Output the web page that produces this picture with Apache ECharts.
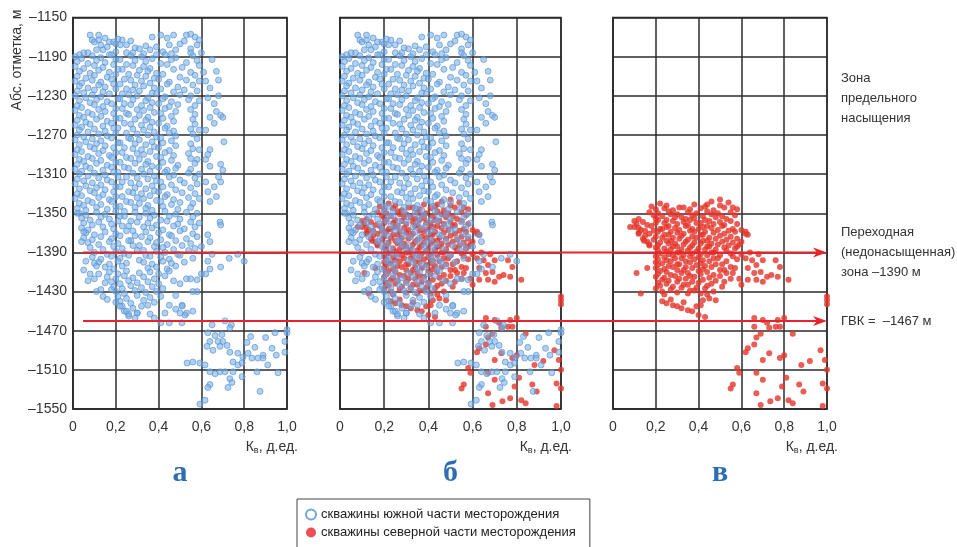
<!DOCTYPE html>
<html>
<head>
<meta charset="utf-8">
<script src="https://cdn.jsdelivr.net/npm/echarts@6/dist/echarts.min.js"></script>
<style>
html, body { margin: 0; padding: 0; background: #fff; }
#chart { width: 957px; height: 547px; }
</style>
</head>
<body>
<div id="chart"></div>
<script>
// оси
const kMin = 0, kMax = 1, kStep = 0.2;
const depthMin = -1550, depthMax = -1150, depthStep = 40;
const panelLetters = ['а', 'б', 'в'];
const seriesNames = ['скважины южной части месторождения', 'скважины северной части месторождения'];
// уровни стрелок (переходная зона, ГВК) и начало линии по Кв
const arrowLevels = [-1390, -1460];
const arrowStartK = 0.047;

// скважины южной части: [Кв, абс. отметка]
const southWells = [
  // верхняя редкая полоса
  [0.08,-1168],[0.12,-1168],[0.09,-1173],[0.1,-1175],[0.12,-1173],[0.15,-1171],[0.17,-1175],[0.19,-1175],[0.2,-1177],[0.22,-1178],
  [0.25,-1178],[0.27,-1174],[0.23,-1173],[0.37,-1170],[0.41,-1168],[0.44,-1171],[0.47,-1168],[0.53,-1168],[0.55,-1167],[0.57,-1170],
  [0.59,-1173],[0.5,-1177],[0.45,-1178],[0.39,-1180],[0.36,-1183],[0.16,-1180],[0.14,-1183],[0.11,-1183],[0.07,-1186],[0.05,-1186],
  [0.03,-1188],[0.2,-1185],[0.25,-1186],[0.28,-1186],[0.42,-1185],[0.48,-1183],[0.55,-1182],[0.6,-1186],[0.55,-1186],[0.31,-1182],
  [0.34,-1179],[0.29,-1181],[0.52,-1174],[0.58,-1178],[0.46,-1187],[0.39,-1188],[0.18,-1188],[0.13,-1178],[0.21,-1172],[0.33,-1187],
  // плотное ядро
  [0.01,-1190],[0.04,-1192],[0.09,-1189],[0.13,-1191],[0.17,-1188],[0.22,-1193],[0.27,-1189],[0.32,-1190],[0.37,-1192],[0.43,-1188],[0.48,-1191],[0.56,-1189],
  [0.02,-1195],[0.07,-1197],[0.11,-1194],[0.15,-1196],[0.2,-1193],[0.25,-1198],[0.29,-1194],[0.34,-1195],[0.41,-1197],[0.46,-1193],[0.53,-1196],[0.58,-1194],
  [0.01,-1200],[0.05,-1202],[0.1,-1199],[0.14,-1201],[0.19,-1198],[0.23,-1203],[0.28,-1199],[0.33,-1200],[0.36,-1202],[0.44,-1198],[0.51,-1201],[0.59,-1199],
  [0.03,-1205],[0.08,-1207],[0.12,-1204],[0.17,-1206],[0.21,-1203],[0.26,-1208],[0.31,-1204],[0.35,-1205],[0.39,-1207],[0.47,-1203],[0.55,-1206],
  [0.02,-1210],[0.06,-1212],[0.1,-1209],[0.16,-1211],[0.2,-1208],[0.24,-1213],[0.3,-1209],[0.34,-1210],[0.38,-1212],[0.42,-1208],[0.5,-1211],[0.57,-1209],
  [0.01,-1215],[0.04,-1217],[0.09,-1214],[0.13,-1216],[0.18,-1213],[0.22,-1218],[0.27,-1214],[0.32,-1215],[0.36,-1217],[0.4,-1213],[0.45,-1216],[0.53,-1214],[0.59,-1215],
  [0.03,-1220],[0.07,-1222],[0.12,-1219],[0.15,-1221],[0.19,-1218],[0.25,-1223],[0.29,-1219],[0.33,-1220],[0.38,-1222],[0.44,-1218],[0.49,-1221],[0.56,-1219],
  [0.02,-1225],[0.05,-1227],[0.1,-1224],[0.14,-1226],[0.2,-1223],[0.23,-1228],[0.28,-1224],[0.31,-1225],[0.37,-1227],[0.41,-1223],[0.47,-1226],[0.52,-1224],[0.58,-1225],
  [0.01,-1230],[0.06,-1232],[0.09,-1229],[0.13,-1231],[0.17,-1228],[0.22,-1233],[0.26,-1229],[0.3,-1230],[0.35,-1232],[0.39,-1228],[0.43,-1231],[0.5,-1229],[0.55,-1230],
  [0.03,-1235],[0.08,-1237],[0.11,-1234],[0.16,-1236],[0.21,-1233],[0.24,-1238],[0.28,-1234],[0.34,-1235],[0.37,-1237],[0.42,-1233],[0.46,-1236],[0.54,-1234],[0.59,-1235],
  [0.02,-1240],[0.04,-1242],[0.1,-1239],[0.14,-1241],[0.18,-1238],[0.23,-1243],[0.27,-1239],[0.32,-1240],[0.36,-1242],[0.4,-1238],[0.45,-1241],[0.49,-1239],[0.57,-1240],
  [0.01,-1245],[0.07,-1247],[0.12,-1244],[0.15,-1246],[0.2,-1243],[0.25,-1248],[0.3,-1244],[0.33,-1245],[0.38,-1247],[0.43,-1243],[0.48,-1246],[0.55,-1244],
  [0.03,-1250],[0.05,-1252],[0.09,-1249],[0.13,-1251],[0.19,-1248],[0.22,-1253],[0.26,-1249],[0.31,-1250],[0.35,-1252],[0.41,-1248],[0.46,-1251],[0.57,-1249],
  [0.02,-1255],[0.06,-1257],[0.11,-1254],[0.16,-1256],[0.2,-1253],[0.24,-1258],[0.29,-1254],[0.34,-1255],[0.37,-1257],[0.42,-1253],[0.47,-1256],[0.56,-1254],
  [0.01,-1260],[0.04,-1262],[0.08,-1259],[0.14,-1261],[0.18,-1258],[0.21,-1263],[0.27,-1259],[0.32,-1260],[0.36,-1262],[0.4,-1258],[0.44,-1261],[0.57,-1259],
  [0.03,-1265],[0.07,-1267],[0.1,-1264],[0.15,-1266],[0.19,-1263],[0.25,-1268],[0.28,-1264],[0.33,-1265],[0.38,-1267],[0.43,-1263],[0.47,-1266],[0.55,-1264],[0.59,-1265],
  [0.02,-1270],[0.05,-1272],[0.12,-1269],[0.16,-1271],[0.2,-1268],[0.26,-1273],[0.3,-1269],[0.35,-1270],[0.39,-1272],[0.45,-1268],[0.48,-1271],[0.56,-1269],
  [0.01,-1275],[0.06,-1277],[0.09,-1274],[0.13,-1276],[0.18,-1273],[0.22,-1278],[0.27,-1274],[0.31,-1275],[0.37,-1277],[0.41,-1273],[0.46,-1276],[0.58,-1274],
  [0.03,-1280],[0.08,-1282],[0.11,-1279],[0.15,-1281],[0.21,-1278],[0.24,-1283],[0.29,-1279],[0.34,-1280],[0.38,-1282],[0.42,-1278],[0.48,-1281],[0.55,-1279],
  [0.02,-1285],[0.04,-1287],[0.1,-1284],[0.14,-1286],[0.19,-1283],[0.23,-1288],[0.28,-1284],[0.32,-1285],[0.36,-1287],[0.4,-1283],[0.45,-1286],[0.56,-1284],[0.59,-1285],
  [0.01,-1290],[0.07,-1292],[0.12,-1289],[0.17,-1291],[0.2,-1288],[0.25,-1293],[0.3,-1289],[0.33,-1290],[0.39,-1292],[0.43,-1288],[0.47,-1291],[0.54,-1289],
  [0.03,-1295],[0.05,-1297],[0.09,-1294],[0.13,-1296],[0.18,-1293],[0.22,-1298],[0.27,-1294],[0.31,-1295],[0.35,-1297],[0.41,-1293],[0.46,-1296],[0.55,-1294],[0.58,-1295],
  [0.02,-1300],[0.06,-1302],[0.11,-1299],[0.16,-1301],[0.2,-1298],[0.24,-1303],[0.29,-1299],[0.34,-1300],[0.37,-1302],[0.42,-1298],[0.49,-1301],[0.57,-1299],
  [0.01,-1305],[0.04,-1307],[0.08,-1304],[0.14,-1306],[0.18,-1303],[0.21,-1308],[0.26,-1304],[0.32,-1305],[0.36,-1307],[0.4,-1303],[0.44,-1306],[0.48,-1304],[0.55,-1305],
  [0.03,-1310],[0.07,-1312],[0.1,-1309],[0.15,-1311],[0.19,-1308],[0.25,-1313],[0.28,-1309],[0.33,-1310],[0.38,-1312],[0.43,-1308],[0.47,-1311],[0.54,-1309],[0.59,-1310],
  [0.02,-1315],[0.05,-1317],[0.12,-1314],[0.16,-1316],[0.21,-1313],[0.23,-1318],[0.3,-1314],[0.35,-1315],[0.39,-1317],[0.45,-1313],[0.5,-1316],[0.57,-1314],
  [0.01,-1320],[0.06,-1322],[0.09,-1319],[0.13,-1321],[0.18,-1318],[0.22,-1323],[0.27,-1319],[0.31,-1320],[0.37,-1322],[0.41,-1318],[0.46,-1321],[0.52,-1319],[0.58,-1320],
  [0.03,-1325],[0.08,-1327],[0.11,-1324],[0.15,-1326],[0.2,-1323],[0.26,-1328],[0.29,-1324],[0.34,-1325],[0.38,-1327],[0.42,-1323],[0.48,-1326],[0.55,-1324],
  [0.02,-1330],[0.04,-1332],[0.1,-1329],[0.14,-1331],[0.19,-1328],[0.23,-1333],[0.28,-1329],[0.32,-1330],[0.36,-1332],[0.4,-1328],[0.44,-1331],[0.51,-1329],[0.57,-1330],
  [0.01,-1335],[0.07,-1337],[0.12,-1334],[0.17,-1336],[0.2,-1333],[0.25,-1338],[0.3,-1334],[0.33,-1335],[0.39,-1337],[0.43,-1333],[0.47,-1336],[0.54,-1334],[0.59,-1335],
  [0.03,-1340],[0.05,-1342],[0.09,-1339],[0.13,-1341],[0.18,-1338],[0.22,-1343],[0.27,-1339],[0.31,-1340],[0.35,-1342],[0.41,-1338],[0.46,-1341],[0.5,-1339],[0.56,-1340],
  [0.02,-1345],[0.06,-1347],[0.11,-1344],[0.16,-1346],[0.2,-1343],[0.24,-1348],[0.29,-1344],[0.34,-1345],[0.37,-1347],[0.42,-1343],[0.49,-1346],[0.55,-1344],
  // полоса -1350...-1395
  [0.03,-1350],[0.06,-1352],[0.11,-1349],[0.15,-1351],[0.2,-1348],[0.24,-1353],[0.29,-1349],[0.34,-1350],[0.38,-1352],[0.43,-1348],[0.48,-1351],[0.53,-1349],[0.58,-1350],
  [0.04,-1355],[0.08,-1357],[0.13,-1354],[0.17,-1356],[0.22,-1353],[0.27,-1358],[0.31,-1354],[0.36,-1355],[0.41,-1357],[0.45,-1353],[0.5,-1356],[0.56,-1354],
  [0.05,-1360],[0.09,-1362],[0.12,-1359],[0.18,-1361],[0.21,-1358],[0.26,-1363],[0.3,-1359],[0.35,-1360],[0.39,-1362],[0.44,-1358],[0.49,-1361],[0.55,-1359],[0.59,-1360],
  [0.04,-1365],[0.07,-1367],[0.14,-1364],[0.19,-1366],[0.23,-1363],[0.28,-1368],[0.33,-1364],[0.37,-1365],[0.42,-1367],[0.47,-1363],[0.52,-1366],[0.57,-1364],
  [0.06,-1370],[0.1,-1372],[0.15,-1369],[0.2,-1371],[0.25,-1368],[0.29,-1373],[0.34,-1369],[0.4,-1370],[0.45,-1372],[0.5,-1368],[0.56,-1371],
  [0.05,-1375],[0.09,-1377],[0.13,-1374],[0.18,-1376],[0.22,-1373],[0.27,-1378],[0.32,-1374],[0.36,-1375],[0.41,-1377],[0.46,-1373],[0.53,-1376],[0.58,-1374],
  [0.07,-1380],[0.12,-1382],[0.17,-1379],[0.21,-1381],[0.26,-1378],[0.31,-1383],[0.35,-1379],[0.39,-1380],[0.44,-1382],[0.48,-1378],[0.55,-1381],
  [0.08,-1385],[0.14,-1387],[0.19,-1384],[0.23,-1386],[0.28,-1383],[0.33,-1388],[0.38,-1384],[0.42,-1385],[0.47,-1387],[0.51,-1383],[0.57,-1386],
  [0.1,-1390],[0.16,-1392],[0.2,-1389],[0.24,-1391],[0.3,-1388],[0.34,-1393],[0.39,-1389],[0.43,-1390],[0.49,-1392],[0.54,-1388],
  [0.09,-1395],[0.13,-1397],[0.18,-1394],[0.22,-1396],[0.26,-1393],[0.31,-1398],[0.36,-1394],[0.41,-1395],[0.45,-1397],[0.5,-1393],[0.56,-1396],
  // сужение книзу
  [0.12,-1400],[0.17,-1402],[0.21,-1399],[0.25,-1401],[0.33,-1400],[0.37,-1402],[0.42,-1399],[0.46,-1401],[0.52,-1400],
  [0.15,-1405],[0.19,-1407],[0.23,-1404],[0.35,-1406],[0.39,-1405],[0.44,-1407],[0.48,-1404],
  [0.17,-1410],[0.21,-1412],[0.25,-1409],[0.31,-1411],[0.36,-1410],[0.4,-1412],[0.45,-1409],
  [0.16,-1415],[0.2,-1417],[0.24,-1414],[0.28,-1416],[0.33,-1415],[0.38,-1417],[0.43,-1414],
  [0.18,-1420],[0.22,-1422],[0.26,-1419],[0.3,-1421],[0.35,-1420],[0.4,-1422],[0.47,-1419],
  [0.19,-1425],[0.23,-1427],[0.27,-1424],[0.32,-1426],[0.37,-1425],[0.42,-1427],
  [0.2,-1430],[0.24,-1432],[0.29,-1429],[0.34,-1431],[0.39,-1430],
  [0.21,-1435],[0.25,-1437],[0.3,-1434],[0.36,-1436],[0.41,-1435],
  [0.22,-1440],[0.27,-1442],[0.33,-1439],[0.38,-1441],
  [0.23,-1445],[0.28,-1447],[0.35,-1444],[0.24,-1450],[0.3,-1452],[0.26,-1455],[0.29,-1457],
  // левый край
  [0.02,-1350],[0.05,-1369],[0.04,-1379],[0.05,-1408],[0.07,-1419],[0.06,-1399],[0.1,-1401],[0.11,-1404],[0.08,-1412],[0.1,-1417],
  [0.11,-1430],[0.13,-1428],[0.14,-1435],[0.16,-1438],[0.15,-1421],[0.12,-1412],[0.18,-1428],[0.2,-1441],
  // правый край
  [0.65,-1193],[0.61,-1206],[0.67,-1205],[0.68,-1214],[0.62,-1215],[0.64,-1222],[0.68,-1230],[0.63,-1232],[0.66,-1238],[0.67,-1246],
  [0.69,-1250],[0.7,-1252],[0.64,-1252],[0.66,-1258],[0.62,-1265],[0.705,-1277],[0.64,-1285],[0.63,-1290],[0.62,-1295],[0.69,-1300],
  [0.7,-1306],[0.64,-1302],[0.68,-1313],[0.69,-1318],[0.62,-1318],[0.66,-1323],[0.63,-1328],[0.67,-1333],[0.64,-1338],
  [0.687,-1359],[0.69,-1362],[0.63,-1372],[0.64,-1379],[0.6,-1384],[0.65,-1392],[0.73,-1396],[0.77,-1392],[0.8,-1399],[0.63,-1399],
  [0.64,-1407],[0.69,-1405],[0.62,-1412],[0.6,-1412],[0.58,-1418],[0.55,-1417],[0.53,-1417],[0.5,-1422],[0.48,-1434],[0.58,-1430],
  [0.56,-1430],[0.51,-1444],[0.56,-1450],[0.53,-1452],[0.48,-1448],[0.45,-1444],[0.43,-1452],[0.45,-1462],[0.41,-1462],[0.38,-1457],
  [0.36,-1453],[0.32,-1445],[0.3,-1452],[0.26,-1453],[0.25,-1450],[0.22,-1445],[0.51,-1445],
  // нижняя правая группа
  [0.523,-1454],[0.5,-1452],[0.509,-1462],[0.65,-1464],[0.71,-1460],[0.74,-1464],[0.733,-1467],[0.63,-1472],[0.664,-1475],[0.696,-1474],
  [0.7,-1481],[0.678,-1481],[0.64,-1481],[0.626,-1486],[0.654,-1490],[0.687,-1486],[0.72,-1485],[0.733,-1492],[0.77,-1493],[0.813,-1482],
  [0.818,-1493],[0.85,-1487],[0.888,-1495],[0.93,-1488],[0.944,-1472],[1.0,-1472],[0.99,-1492],[0.794,-1497],[0.836,-1498],[0.864,-1498],
  [0.888,-1498],[0.91,-1505],[0.533,-1503],[0.56,-1502],[0.593,-1503],[0.617,-1505],[0.748,-1502],[0.771,-1505],[0.79,-1503],[0.64,-1512],
  [0.664,-1514],[0.687,-1512],[0.71,-1512],[0.748,-1512],[0.79,-1517],[0.733,-1519],[0.743,-1523],[0.724,-1528],[0.64,-1525],[0.63,-1528],
  [0.86,-1512],[0.958,-1513],[0.874,-1532],[0.617,-1541],[0.593,-1545],[1.0,-1469],[0.99,-1481],[0.95,-1495],[0.83,-1476],[0.9,-1477]
];

// скважины северной части: [Кв, абс. отметка]
const northWells = [
  // основное скопление
  [0.5,-1336],[0.22,-1340],[0.46,-1338],[0.54,-1339],[0.44,-1341],
  [0.18,-1343],[0.25,-1342],[0.31,-1344],[0.38,-1341],[0.43,-1343],[0.5,-1342],[0.56,-1344],
  [0.2,-1346],[0.24,-1345],[0.28,-1347],[0.33,-1344],[0.36,-1346],[0.41,-1345],[0.47,-1347],[0.52,-1344],[0.58,-1346],
  [0.17,-1349],[0.21,-1350],[0.26,-1348],[0.3,-1351],[0.35,-1349],[0.39,-1350],[0.44,-1348],[0.49,-1350],[0.55,-1349],
  [0.19,-1352],[0.23,-1353],[0.27,-1351],[0.32,-1354],[0.37,-1352],[0.42,-1353],[0.46,-1351],[0.51,-1353],[0.57,-1352],
  [0.12,-1356],[0.2,-1355],[0.25,-1357],[0.29,-1354],[0.34,-1356],[0.38,-1355],[0.43,-1357],[0.48,-1354],[0.53,-1356],
  [0.1,-1358],[0.14,-1359],[0.21,-1357],[0.24,-1360],[0.28,-1358],[0.33,-1359],[0.36,-1357],[0.41,-1360],[0.45,-1358],[0.5,-1359],[0.55,-1358],
  [0.11,-1361],[0.16,-1362],[0.2,-1360],[0.26,-1363],[0.3,-1361],[0.35,-1362],[0.39,-1360],[0.44,-1363],[0.47,-1361],[0.52,-1362],[0.58,-1361],
  [0.08,-1364],[0.12,-1365],[0.18,-1363],[0.22,-1366],[0.25,-1364],[0.29,-1365],[0.34,-1363],[0.37,-1366],[0.42,-1364],[0.46,-1365],[0.51,-1363],[0.56,-1366],
  [0.13,-1367],[0.19,-1368],[0.23,-1366],[0.27,-1369],[0.31,-1367],[0.36,-1368],[0.4,-1366],[0.43,-1369],[0.49,-1367],[0.54,-1368],[0.6,-1367],
  [0.12,-1370],[0.17,-1371],[0.21,-1369],[0.26,-1372],[0.3,-1370],[0.33,-1371],[0.38,-1369],[0.42,-1372],[0.47,-1370],[0.52,-1371],[0.57,-1369],[0.62,-1371],
  [0.15,-1373],[0.2,-1374],[0.24,-1372],[0.28,-1375],[0.32,-1373],[0.37,-1374],[0.41,-1372],[0.45,-1375],[0.5,-1373],[0.55,-1374],
  [0.14,-1376],[0.19,-1377],[0.23,-1375],[0.27,-1378],[0.31,-1376],[0.35,-1377],[0.39,-1375],[0.44,-1378],[0.48,-1376],[0.53,-1377],[0.58,-1376],
  [0.16,-1379],[0.22,-1380],[0.25,-1378],[0.29,-1381],[0.34,-1379],[0.38,-1380],[0.42,-1378],[0.46,-1381],[0.51,-1379],[0.56,-1380],
  [0.17,-1382],[0.21,-1383],[0.26,-1381],[0.3,-1384],[0.33,-1382],[0.37,-1383],[0.41,-1381],[0.45,-1384],[0.49,-1382],[0.54,-1383],[0.59,-1382],
  [0.2,-1385],[0.24,-1386],[0.28,-1384],[0.32,-1387],[0.36,-1385],[0.4,-1386],[0.44,-1384],[0.48,-1387],[0.52,-1385],[0.57,-1386],
  [0.21,-1388],[0.25,-1389],[0.27,-1387],[0.31,-1390],[0.35,-1388],[0.39,-1389],[0.43,-1387],[0.47,-1390],[0.53,-1388],
  [0.22,-1391],[0.26,-1392],[0.3,-1390],[0.33,-1393],[0.37,-1391],[0.41,-1392],[0.46,-1390],[0.5,-1393],[0.55,-1391],[0.6,-1392],
  [0.2,-1394],[0.24,-1395],[0.28,-1393],[0.32,-1396],[0.36,-1394],[0.4,-1395],[0.44,-1393],[0.49,-1396],[0.56,-1394],
  [0.21,-1397],[0.25,-1398],[0.29,-1396],[0.34,-1399],[0.38,-1397],[0.42,-1398],[0.47,-1396],[0.53,-1399],[0.58,-1397],
  [0.2,-1400],[0.23,-1401],[0.27,-1399],[0.31,-1402],[0.36,-1400],[0.41,-1401],[0.45,-1399],[0.51,-1402],
  [0.21,-1403],[0.26,-1404],[0.3,-1402],[0.34,-1405],[0.39,-1403],[0.43,-1404],[0.48,-1402],[0.55,-1405],
  [0.2,-1406],[0.24,-1407],[0.28,-1405],[0.33,-1408],[0.37,-1406],[0.42,-1407],[0.46,-1405],[0.52,-1408],[0.57,-1406],
  [0.22,-1409],[0.25,-1410],[0.3,-1408],[0.35,-1411],[0.4,-1409],[0.44,-1410],[0.5,-1408],[0.56,-1411],
  [0.21,-1412],[0.27,-1413],[0.32,-1411],[0.36,-1414],[0.41,-1412],[0.47,-1413],[0.53,-1411],
  [0.2,-1415],[0.24,-1416],[0.29,-1414],[0.34,-1417],[0.38,-1415],[0.45,-1416],[0.5,-1414],[0.59,-1417],
  [0.23,-1418],[0.26,-1419],[0.31,-1417],[0.37,-1420],[0.42,-1418],[0.48,-1419],[0.55,-1417],
  [0.21,-1421],[0.25,-1422],[0.3,-1420],[0.35,-1423],[0.4,-1421],[0.46,-1422],[0.52,-1420],
  [0.22,-1424],[0.28,-1425],[0.33,-1423],[0.39,-1426],[0.44,-1424],[0.51,-1425],
  [0.2,-1427],[0.27,-1428],[0.32,-1426],[0.38,-1429],[0.43,-1427],
  [0.23,-1430],[0.3,-1431],[0.36,-1429],[0.41,-1432],[0.47,-1430],
  // левый край
  [0.13,-1432],[0.11,-1411],[0.16,-1406],[0.1,-1364],[0.12,-1371],[0.145,-1378],[0.17,-1383],[0.15,-1368],
  // правое продолжение
  [0.65,-1398],[0.67,-1403],[0.7,-1398],[0.76,-1398],[0.78,-1405],[0.63,-1406],[0.66,-1411],[0.69,-1410],[0.72,-1415],[0.74,-1413],
  [0.77,-1415],[0.82,-1418],[0.7,-1420],[0.67,-1418],[0.63,-1418],[0.6,-1423],[0.62,-1369],[0.63,-1372],[0.6,-1379],[0.58,-1384],
  [0.64,-1390],[0.68,-1392],[0.62,-1396],
  // нижний хвост
  [0.23,-1440],[0.25,-1442],[0.28,-1444],[0.3,-1445],[0.32,-1447],[0.35,-1449],[0.37,-1450],[0.4,-1454],[0.43,-1456],[0.41,-1444],
  [0.42,-1439],[0.45,-1437],[0.48,-1439],[0.44,-1433],[0.39,-1445],[0.24,-1433],[0.35,-1432],[0.27,-1438],[0.33,-1441],
  // у правой границы
  [1.0,-1435],[1.0,-1439],[1.0,-1443],
  // нижняя правая группа
  [0.66,-1457],[0.7,-1459],[0.77,-1459],[0.8,-1457],[0.66,-1466],[0.69,-1473],[0.73,-1467],[0.76,-1466],[0.78,-1466],[0.84,-1473],
  [0.67,-1477],[0.63,-1488],[0.66,-1484],[0.7,-1500],[0.73,-1493],[0.78,-1498],[0.8,-1495],[0.88,-1505],[0.92,-1501],[0.97,-1490],
  [0.99,-1500],[0.58,-1508],[0.59,-1513],[0.56,-1525],[0.55,-1529],[0.67,-1513],[0.7,-1520],[0.79,-1527],[0.81,-1518],[0.87,-1525],
  [0.89,-1532],[0.98,-1524],[1.0,-1529],[0.67,-1534],[0.735,-1542],[0.77,-1539],[0.82,-1541],[0.84,-1544],[0.69,-1546],[0.98,-1547],
  [1.0,-1510],[0.72,-1462],[0.62,-1492]
];

const fontS = "'Liberation Sans', Arial, sans-serif";
const lineColor = '#2b2b2b';
const arrowColor = '#e8232b';
const textColor = '#333';

const grids = [
  { left: 73, top: 17.5, width: 214, height: 391.5 },
  { left: 340, top: 17.5, width: 221, height: 391.5 },
  { left: 613, top: 17.5, width: 214, height: 391.5 }
];

const toXY = pts => pts.map(p => [p[0], p[1] - depthMin]);

const blueStyle = { color: 'rgba(122,174,228,0.72)', borderColor: 'rgba(88,148,214,0.85)', borderWidth: 1 };
const redStyle = { color: '#e5352b' };

const chart = echarts.init(document.getElementById('chart'));

const option = {
  animation: false,
  backgroundColor: '#fff',
  grid: grids.map(g => Object.assign({ show: true, borderColor: lineColor, borderWidth: 1.5, backgroundColor: 'transparent' }, g)),
  xAxis: grids.map((g, i) => ({
    gridIndex: i,
    type: 'value',
    min: kMin, max: kMax, interval: kStep,
    axisLine: { show: true, lineStyle: { color: lineColor, width: 1.5 } },
    axisTick: { show: false },
    splitLine: { show: true, lineStyle: { color: lineColor, width: 1.5 } },
    axisLabel: {
      margin: 11, fontSize: 14, fontFamily: fontS, color: textColor,
      formatter: v => v === 0 ? '0' : v.toFixed(1).replace('.', ',')
    }
  })),
  yAxis: grids.map((g, i) => ({
    gridIndex: i,
    type: 'value',
    min: 0, max: depthMax - depthMin, interval: depthStep,
    axisLine: { show: true, lineStyle: { color: lineColor, width: 1.5 } },
    axisTick: { show: false },
    splitLine: { show: true, lineStyle: { color: lineColor, width: 1.5 } },
    axisLabel: {
      show: i === 0, margin: 6, fontSize: 14, fontFamily: fontS, color: textColor,
      formatter: v => '–' + Math.abs(v + depthMin)
    }
  })),
  legend: {
    left: 297, top: 499, height: 80,
    orient: 'vertical',
    padding: [8, 14, 20, 8],
    itemGap: 3,
    itemWidth: 10, itemHeight: 10,
    borderColor: '#444', borderWidth: 1,
    textStyle: { fontSize: 13, fontFamily: fontS, color: '#222', lineHeight: 15 },
    data: [
      { name: seriesNames[0], icon: 'emptyCircle', itemStyle: { color: '#4f8fd6', borderColor: '#4f8fd6', borderWidth: 1.2 } },
      { name: seriesNames[1], icon: 'circle', itemStyle: { color: '#e8232b' } }
    ]
  },
  series: [
    { name: seriesNames[0], type: 'scatter', xAxisIndex: 0, yAxisIndex: 0, symbolSize: 6, itemStyle: blueStyle, data: toXY(southWells), silent: true },
    { name: seriesNames[1], type: 'scatter', xAxisIndex: 1, yAxisIndex: 1, symbolSize: 6, itemStyle: redStyle, data: toXY(northWells), silent: true },
    { name: seriesNames[0], type: 'scatter', xAxisIndex: 1, yAxisIndex: 1, symbolSize: 6, itemStyle: blueStyle, data: toXY(southWells), silent: true },
    { name: seriesNames[1], type: 'scatter', xAxisIndex: 2, yAxisIndex: 2, symbolSize: 6, itemStyle: redStyle, data: toXY(northWells), silent: true }
  ]
};
chart.setOption(option);

// подписи и стрелки
const px = (gi, k, h) => chart.convertToPixel({ gridIndex: gi }, [k, h - depthMin]);
const graphics = [];

arrowLevels.forEach(h => {
  const a = px(0, arrowStartK, h);
  const b = px(2, kMax, h);
  graphics.push({
    type: 'line', z: 50,
    shape: { x1: a[0], y1: a[1], x2: b[0] - 8, y2: b[1] },
    style: { stroke: arrowColor, lineWidth: 2 }
  });
  graphics.push({
    type: 'polygon', z: 50,
    shape: { points: [[b[0], b[1]], [b[0] - 14, b[1] - 5], [b[0] - 10, b[1]], [b[0] - 14, b[1] + 5]] },
    style: { fill: arrowColor }
  });
});

// подпись оси Y
graphics.push({
  type: 'text', x: 17, y: 60, rotation: Math.PI / 2,
  style: { text: 'Абс. отметка, м', font: '14px ' + fontS, fill: textColor, textAlign: 'center', textVerticalAlign: 'middle' }
});

// подписи оси X и буквы панелей
grids.forEach((g, i) => {
  graphics.push({
    type: 'text', x: g.left + g.width + 11, y: 447,
    style: {
      text: '{a|К}{b|в}{a|, д.ед.}',
      textAlign: 'right', textVerticalAlign: 'middle',
      rich: {
        a: { fontSize: 14, fontFamily: fontS, fill: textColor, color: textColor },
        b: { fontSize: 9, fontFamily: fontS, fill: textColor, color: textColor, verticalAlign: 'bottom', padding: [8, 0, 0, 0] }
      }
    }
  });
  graphics.push({
    type: 'text', x: g.left + g.width / 2, y: 473,
    style: { text: panelLetters[i], font: 'bold 30px "Liberation Serif", serif', fill: '#2e6db4', textAlign: 'center', textVerticalAlign: 'middle' }
  });
});

// пояснения справа
const notes = [
  ['Зона\nпредельного\nнасыщения', 68],
  ['Переходная\n(недонасыщенная)\nзона –1390 м', 222],
  ['ГВК =  –1467 м', 311]
];
notes.forEach(n => {
  graphics.push({
    type: 'text', x: 841, y: n[1],
    style: { text: n[0], font: '13px ' + fontS, fill: textColor, lineHeight: 20, textAlign: 'left', textVerticalAlign: 'top' }
  });
});

chart.setOption({ graphic: graphics });
</script>
</body>
</html>
